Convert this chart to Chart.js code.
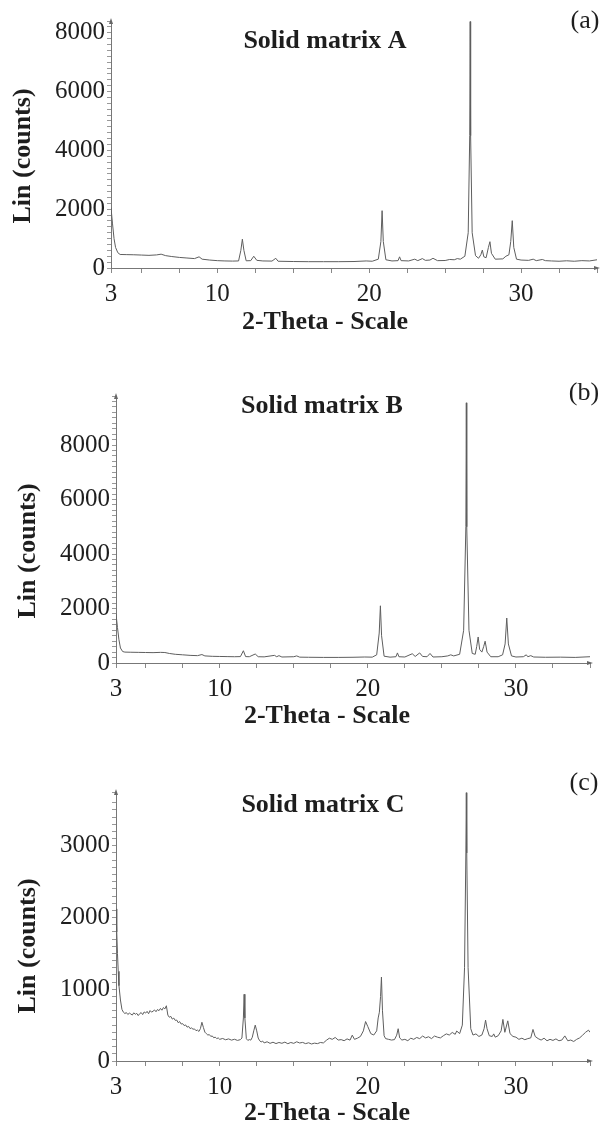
<!DOCTYPE html>
<html>
<head>
<meta charset="utf-8">
<script src="https://cdn.jsdelivr.net/npm/chart.js@4.4.0/dist/chart.umd.min.js"></script>
<style>
body { margin: 0; background: #fff; }
#wrap { position: relative; width: 603px; height: 1125px; }
canvas { position: absolute; left: 0; }
</style>
</head>
<body>
<div id="wrap">
  <canvas id="chartA" width="603" height="340" style="top:0px"></canvas>
  <canvas id="chartB" width="603" height="370" style="top:370px"></canvas>
  <canvas id="chartC" width="603" height="365" style="top:760px"></canvas>
</div>
<script>
// values
const thetaA  = [3.0,3.1,3.2,3.3,3.45,3.6,4.0,4.5,5.0,5.5,6.0,6.3,6.6,7.0,7.5,8.0,8.5,8.8,9.0,9.5,10.0,10.5,11.0,11.4,11.55,11.65,11.75,11.9,12.2,12.4,12.6,13.0,13.6,13.85,14.0,15.0,16.0,17.0,18.0,19.0,19.8,20.2,20.6,20.77,20.85,20.93,21.1,21.5,21.9,22.0,22.1,22.6,23.0,23.2,23.5,23.7,24.0,24.2,24.5,25.0,25.3,25.6,25.8,26.0,26.3,26.52,26.62,26.65,26.68,26.78,27.0,27.2,27.35,27.45,27.55,27.7,27.85,27.95,28.05,28.3,28.8,29.0,29.2,29.32,29.42,29.52,29.7,30.0,30.5,30.8,31.0,31.4,31.6,32.0,32.5,33.0,33.5,34.0,34.5,35.0];
const countsA = [2050,1500,1000,700,520,460,455,450,440,430,445,470,420,390,360,340,320,380,300,270,250,240,235,240,600,980,600,245,250,400,260,240,235,330,230,220,215,215,215,220,240,230,300,900,1950,900,280,240,250,380,250,240,300,250,320,260,270,330,250,255,290,280,320,300,400,1200,4500,8380,4500,1200,420,330,450,610,380,350,700,895,500,300,310,400,450,900,1610,700,300,270,260,300,250,290,250,240,230,245,230,250,240,280];

const thetaB  = [3.0,3.1,3.2,3.3,3.45,3.6,4.0,4.5,5.0,5.5,6.0,6.3,6.6,7.0,7.5,8.0,8.5,8.8,9.0,9.5,10.0,10.5,11.0,11.4,11.6,11.75,12.0,12.4,12.6,13.0,13.7,13.85,14.0,14.2,15.0,15.2,15.4,16.0,17.0,18.0,19.0,19.8,20.3,20.6,20.77,20.85,20.93,21.1,21.5,21.9,22.0,22.1,22.5,23.0,23.2,23.5,23.7,24.0,24.2,24.4,25.0,25.4,25.6,25.8,26.2,26.47,26.62,26.65,26.68,26.83,27.05,27.25,27.35,27.45,27.55,27.7,27.82,27.92,28.05,28.3,28.8,29.1,29.27,29.38,29.49,29.7,30.0,30.5,30.7,30.8,31.0,31.2,32.0,33.0,34.0,35.0];
const countsB = [1800,1300,850,550,420,400,395,390,385,380,390,385,350,320,300,280,270,310,260,245,240,235,230,235,450,235,230,330,230,225,280,230,270,220,230,260,215,210,205,205,210,220,215,300,1100,2100,1000,250,215,230,370,230,220,340,240,370,240,230,350,220,230,260,300,260,320,1200,5000,9550,5000,1200,350,320,600,955,500,400,600,800,400,230,230,300,700,1650,700,260,220,230,300,230,270,220,210,215,205,230];

const thetaC  = [3.0,3.05,3.1,3.15,3.2,3.3,3.4,3.5,3.6,3.7,3.8,3.9,4.0,4.1,4.2,4.3,4.4,4.5,4.6,4.7,4.8,4.9,5.0,5.1,5.2,5.3,5.4,5.5,5.6,5.7,5.8,5.9,6.0,6.1,6.2,6.3,6.4,6.5,6.6,6.7,6.8,6.9,7.0,7.1,7.2,7.3,7.4,7.5,7.6,7.7,7.8,7.9,8.0,8.1,8.2,8.3,8.4,8.5,8.6,8.7,8.8,8.9,9.0,9.1,9.2,9.3,9.4,9.5,9.6,9.7,9.8,9.9,10.0,10.2,10.4,10.6,10.8,11.0,11.2,11.4,11.5,11.6,11.65,11.7,11.8,11.9,12.0,12.1,12.2,12.3,12.4,12.5,12.6,12.7,12.8,12.9,13.0,13.2,13.4,13.6,13.8,14.0,14.2,14.4,14.6,14.8,15.0,15.2,15.4,15.6,15.8,16.0,16.2,16.4,16.6,16.8,17.0,17.2,17.4,17.6,17.8,18.0,18.2,18.4,18.6,18.8,18.95,19.1,19.3,19.5,19.7,19.85,20.0,20.2,20.4,20.6,20.7,20.78,20.86,20.92,20.99,21.1,21.2,21.4,21.6,21.8,21.95,22.05,22.15,22.3,22.5,22.7,22.9,23.1,23.3,23.5,23.7,23.9,24.1,24.3,24.5,24.7,24.9,25.1,25.3,25.5,25.7,25.9,26.0,26.2,26.38,26.53,26.62,26.65,26.68,26.77,26.95,27.1,27.3,27.5,27.7,27.85,27.95,28.05,28.2,28.4,28.5,28.6,28.8,29.0,29.12,29.25,29.45,29.6,29.8,30.0,30.2,30.4,30.6,30.8,31.0,31.15,31.3,31.5,31.7,31.9,32.1,32.3,32.5,32.7,32.9,33.1,33.3,33.5,33.7,33.9,34.1,34.3,34.5,34.7,34.9,35.0];
const countsC = [2120,1800,1500,1250,1050,850,720,680,662,675,648,668,655,640,672,651,664,633,660,675,647,684,668,692,659,703,681,694,712,687,718,701,733,708,745,726,770,640,610,622,584,598,566,571,534,549,515,521,494,503,472,483,452,461,443,447,423,431,412,452,540,468,402,381,362,368,343,349,324,333,312,322,302,314,296,308,291,303,287,298,320,600,930,600,310,287,299,291,330,420,500,420,320,282,266,278,252,268,246,262,243,258,247,263,241,258,246,268,251,259,242,254,237,249,242,258,252,288,318,302,328,292,298,283,308,291,360,302,318,342,420,550,480,382,362,420,600,680,900,1170,700,352,312,302,292,298,360,450,322,292,302,283,318,302,328,312,348,322,338,312,348,332,322,352,378,362,398,372,418,382,500,1300,2900,3740,2900,1300,450,362,378,342,362,450,570,450,352,342,378,332,352,420,580,400,560,382,342,332,302,318,297,312,322,440,342,312,292,318,282,302,287,308,282,292,350,282,292,272,302,322,360,400,430,400];

const xTickValues = [3,5,7.5,10,12.5,15,17.5,20,22.5,25,27.5,30,32.5,35];
const xTickLabels = [3,10,20,30];

const serif = "'Liberation Serif', 'Times New Roman', serif";
Chart.defaults.font.family = serif;
Chart.defaults.color = '#1e1e1e';

const panelText = {
  id: 'panelText',
  afterDraw(chart, args, o) {
    const ctx = chart.ctx, a = chart.chartArea;
    ctx.save();
    ctx.fillStyle = '#1e1e1e';
    ctx.textAlign = 'center';
    ctx.textBaseline = 'middle';
    ctx.font = 'bold 26px ' + serif;
    ctx.fillText(o.title, o.titleAt[0], o.titleAt[1]);
    ctx.fillText('2-Theta - Scale', o.xTitleAt[0], o.xTitleAt[1]);
    ctx.save();
    ctx.translate(o.yTitleAt[0], o.yTitleAt[1]);
    ctx.rotate(-Math.PI / 2);
    ctx.fillText('Lin (counts)', 0, 0);
    ctx.restore();
    ctx.font = '26px ' + serif;
    ctx.fillText(o.tag, o.tagAt[0], o.tagAt[1]);
    // little arrow heads on the axis ends
    ctx.fillStyle = '#666';
    ctx.beginPath();
    ctx.moveTo(a.left, a.top - 3); ctx.lineTo(a.left - 2, a.top + 3); ctx.lineTo(a.left + 2, a.top + 3);
    ctx.fill();
    ctx.beginPath();
    ctx.moveTo(a.right + 3, a.bottom); ctx.lineTo(a.right - 3, a.bottom - 2); ctx.lineTo(a.right - 3, a.bottom + 2);
    ctx.fill();
    ctx.restore();
  }
};

function makePanel(id, theta, counts, p) {
  const pts = theta.map((t, i) => ({ x: t, y: counts[i] }));
  const h = document.getElementById(id).height;
  return new Chart(document.getElementById(id), {
    type: 'line',
    data: { datasets: [{ data: pts, borderColor: '#5e5e5e', borderWidth: 1, pointRadius: 0, tension: 0, fill: false }] },
    options: {
      responsive: false,
      animation: false,
      devicePixelRatio: 1,
      layout: { padding: { top: p.top, right: p.right, left: 0, bottom: 0 } },
      plugins: {
        legend: { display: false },
        tooltip: { enabled: false },
        panelText: p.text
      },
      scales: {
        x: {
          type: 'linear', min: 3, max: 35,
          afterBuildTicks: s => { s.ticks = xTickValues.map(v => ({ value: v })); },
          afterFit: s => { s.height = h - p.bottom; },
          ticks: {
            autoSkip: false, maxRotation: 0, padding: 6,
            font: { size: 25 },
            callback: v => xTickLabels.includes(v) ? String(v) : ''
          },
          grid: { drawOnChartArea: false, tickLength: 5, color: '#888' },
          border: { color: '#777', width: 1 }
        },
        y: {
          min: 0, max: p.yMax,
          afterFit: s => { s.width = p.left; },
          ticks: {
            autoSkip: false, stepSize: p.yStep, padding: 2,
            font: { size: 25 },
            callback: v => v % p.yLabelStep === 0 ? String(v) : ''
          },
          grid: { drawOnChartArea: false, tickLength: 4, color: '#999' },
          border: { color: '#777', width: 1 }
        }
      }
    },
    plugins: [panelText]
  });
}

makePanel('chartA', thetaA, countsA, {
  top: 21, right: 6, left: 111, bottom: 268, yMax: 8400, yStep: 200, yLabelStep: 2000,
  text: { title: 'Solid matrix A', titleAt: [325, 41], tag: '(a)', tagAt: [585, 21], xTitleAt: [325, 322], yTitleAt: [23, 156] }
});
makePanel('chartB', thetaB, countsB, {
  top: 26, right: 13, left: 116, bottom: 293, yMax: 9800, yStep: 200, yLabelStep: 2000,
  text: { title: 'Solid matrix B', titleAt: [322, 36], tag: '(b)', tagAt: [584, 23], xTitleAt: [327, 346], yTitleAt: [28, 181] }
});
makePanel('chartC', thetaC, countsC, {
  top: 32, right: 13, left: 116, bottom: 301, yMax: 3750, yStep: 100, yLabelStep: 1000,
  text: { title: 'Solid matrix C', titleAt: [323, 45], tag: '(c)', tagAt: [584, 23], xTitleAt: [327, 353], yTitleAt: [28, 186] }
});
</script>
</body>
</html>
